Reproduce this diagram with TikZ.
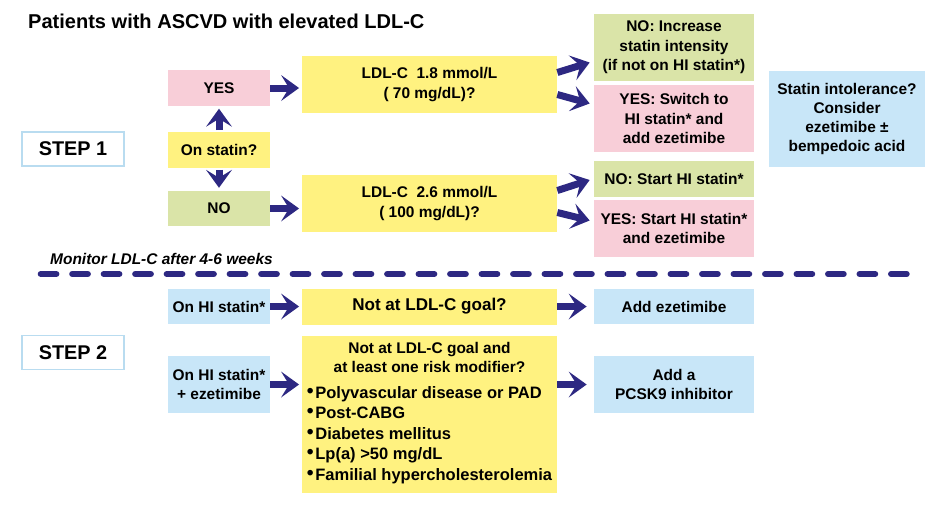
\documentclass[tikz,border=0pt]{standalone}
\usepackage{fontspec}
\setmainfont{Liberation Sans}
\usetikzlibrary{arrows.meta,calc}
\definecolor{navy}{RGB}{45,40,130}
\definecolor{boxyellow}{RGB}{255,242,128}
\definecolor{boxpink}{RGB}{248,206,216}
\definecolor{boxgreen}{RGB}{218,228,168}
\definecolor{boxblue}{RGB}{200,230,248}
\definecolor{stepline}{RGB}{185,220,240}
\newcommand{\bul}{\raisebox{0.6pt}{\fontsize{11}{11}\selectfont•}\hspace{1pt}}

\begin{document}
\begin{tikzpicture}[x=0.02cm, y=-0.02cm,
  box/.style={inner sep=0pt, align=center, font=\fontsize{8.8}{11}\selectfont\bfseries},
  leftbox/.style={box, minimum width=2.04cm, minimum height=0.71cm},
  qbox/.style={box, fill=boxyellow, minimum width=5.10cm},
  actbox/.style={box, minimum width=3.20cm},
  stepbox/.style={box, draw=stepline, line width=1pt, fill=white, minimum width=2.04cm,
                  minimum height=0.68cm, font=\fontsize{11.3}{13}\selectfont\bfseries},
  go/.style={draw=navy, line width=0.14cm,
             -{Stealth[length=0.36cm, width=0.52cm, inset=0.16cm, line width=0pt]}},
]
\path[fill=white, use as bounding box] (0,0) rectangle (926,505);

\node[anchor=base west, font=\fontsize{11.4}{13}\selectfont\bfseries] (title) at (22,28)
  {Patients with ASCVD with elevated LDL-C};

% step 1
\node[stepbox] (step1) at (73,149) {STEP 1};
\node[leftbox, fill=boxpink]   (yes)      at (219,88)    {YES};
\node[leftbox, fill=boxyellow] (onstatin) at (219,150)   {On statin?};
\node[leftbox, fill=boxgreen]  (no)       at (219,208.5) {NO};

\node[qbox, minimum height=1.14cm] (ldla) at (429.5,84.5)
  {LDL-C\hspace{0.55em}1.8 mmol/L\\ ( 70 mg/dL)?};
\node[qbox, minimum height=1.14cm] (ldlb) at (429.5,203.5)
  {LDL-C\hspace{0.55em}2.6 mmol/L\\ ( 100 mg/dL)?};

\node[actbox, fill=boxgreen, minimum height=1.34cm] (noinc)     at (674,47.5)
  {NO: Increase\\ statin intensity\\ (if not on HI statin*)};
\node[actbox, fill=boxpink,  minimum height=1.34cm] (yesswitch) at (674,118.5)
  {YES: Switch to\\ HI statin* and\\ add ezetimibe};
\node[actbox, fill=boxgreen, minimum height=0.72cm] (nostart)   at (674,179)
  {NO: Start HI statin*};
\node[actbox, fill=boxpink,  minimum height=1.14cm] (yesstart)  at (674,228.5)
  {YES: Start HI statin*\\ and ezetimibe};

\node[box, fill=boxblue, minimum width=3.12cm, minimum height=1.92cm] (intol) at (847,119)
  {Statin intolerance?\\ Consider\\ ezetimibe ±\\ bempedoic acid};

\draw[go, shorten >=1.5pt, shorten <=1pt] (onstatin.north) -- (yes.south);
\draw[go, shorten >=1.5pt, shorten <=1pt] (onstatin.south) -- (no.north);
\draw[go, shorten >=1.5pt] (yes.east) -- (yes.east -| ldla.west);
\draw[go, shorten >=1.5pt] (no.east) -- (no.east -| ldlb.west);
\draw[go] ($(ldla.east)+(0,-12)$) -- ($(noinc.west)+(-4,15)$);
\draw[go] ($(ldla.east)+(0,10)$)  -- ($(yesswitch.west)+(-4,-15)$);
\draw[go] ($(ldlb.east)+(0,-13)$) -- ($(nostart.west)+(-4,1)$);
\draw[go] ($(ldlb.east)+(0,9)$)   -- ($(yesstart.west)+(-4,-8)$);

% divider
\node[anchor=base west, font=\fontsize{8.8}{11}\selectfont\bfseries\itshape] (monitor) at (44,264)
  {Monitor LDL-C after 4-6 weeks};
\coordinate (dashL) at (40.7,274);
\coordinate (dashR) at (907,274);
\draw[navy, line width=0.12cm, line cap=round, dash pattern=on 0.314cm off 0.316cm] (dashL) -- (dashR);

% step 2
\node[stepbox] (step2) at (73,352.5) {STEP 2};
\node[leftbox, fill=boxblue] (onhi)   at (219,306.5) {On HI statin*};
\node[leftbox, fill=boxblue, minimum height=1.14cm] (onhiez) at (219,384.5)
  {On HI statin*\\ + ezetimibe};

\node[qbox, minimum height=0.72cm, font=\fontsize{9.7}{11}\selectfont\bfseries] (notgoal)
  at (429.5,306.5) {Not at LDL-C goal?};
\node[qbox, minimum height=3.14cm] (risk) at (429.5,414.5)
  {Not at LDL-C goal and\\ at least one risk modifier?\\[3.5pt]
   {\fontsize{9.4}{11.7}\selectfont
   \begin{tabular}[t]{@{}l@{}}
   \bul Polyvascular disease or PAD\\
   \bul Post-CABG\\
   \bul Diabetes mellitus\\
   \bul Lp(a) >50 mg/dL\\
   \bul Familial hypercholesterolemia
   \end{tabular}}};

\node[actbox, fill=boxblue, minimum height=0.70cm] (addez) at (674,306.5) {Add ezetimibe};
\node[actbox, fill=boxblue, minimum height=1.14cm] (pcsk)  at (674,384.5)
  {Add a\\ PCSK9 inhibitor};

\draw[go, shorten >=1.5pt] (onhi.east) -- (notgoal.west);
\draw[go, shorten >=4pt] (notgoal.east) -- (addez.west);
\draw[go, shorten >=1.5pt] (onhiez.east) -- (onhiez.east -| risk.west);
\draw[go, shorten >=4pt] (pcsk.west -| risk.east) -- (pcsk.west);
\end{tikzpicture}
\end{document}
